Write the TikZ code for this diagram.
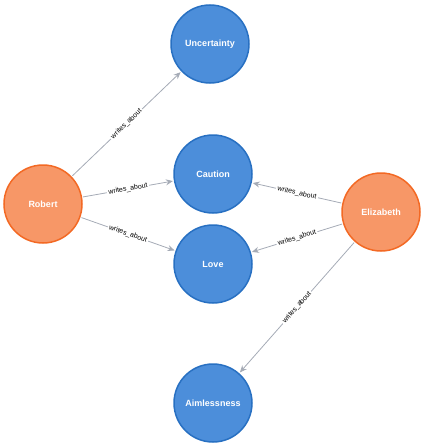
\documentclass[tikz,border=0pt]{standalone}
\usepackage{fontspec}
\setmainfont{Liberation Sans}
\usetikzlibrary{arrows.meta}

\definecolor{topicfill}{HTML}{4C8EDA}
\definecolor{topicline}{HTML}{2870C2}
\definecolor{personfill}{HTML}{F79767}
\definecolor{personline}{HTML}{F36924}
\definecolor{relline}{HTML}{A5ABB6}

\begin{document}
\begin{tikzpicture}[x=1pt, y=-1pt,
        topic/.style={draw=topicline, fill=topicfill, circle, line width=1.5pt,
            minimum size=78pt, inner sep=0pt, text=white, font=\fontsize{9}{11}\selectfont\bfseries},
        person/.style={draw=personline, fill=personfill, circle, line width=1.5pt,
            minimum size=78pt, inner sep=0pt, text=white, font=\fontsize{9}{11}\selectfont\bfseries},
        rel/.style={draw=relline, line width=0.8pt, -{Stealth[length=7pt,width=6pt]}, shorten >=1pt, shorten <=1pt},
        rellabel/.style={fill=white, sloped, midway, inner sep=1.5pt, text=black, font=\fontsize{7}{8}\selectfont}]
    \useasboundingbox (0, 0) rectangle (424, 447);

    % Topics
    \node[topic] (uncertainty) at (210, 44) {Uncertainty};
    \node[topic] (caution) at (213, 174) {Caution};
    \node[topic] (love) at (213, 264) {Love};
    \node[topic] (aimlessness) at (213, 403) {Aimlessness};

    % People
    \node[person] (robert) at (43, 204) {Robert};
    \node[person] (elizabeth) at (381, 212) {Elizabeth};

    % Relations
    \draw[rel] (robert) -- node[rellabel] {writes\_about} (uncertainty);
    \draw[rel] (robert) -- node[rellabel] {writes\_about} (caution);
    \draw[rel] (robert) -- node[rellabel] {writes\_about} (love);
    \draw[rel] (elizabeth) -- node[rellabel] {writes\_about} (caution);
    \draw[rel] (elizabeth) -- node[rellabel] {writes\_about} (love);
    \draw[rel] (elizabeth) -- node[rellabel] {writes\_about} (aimlessness);
\end{tikzpicture}
\end{document}
